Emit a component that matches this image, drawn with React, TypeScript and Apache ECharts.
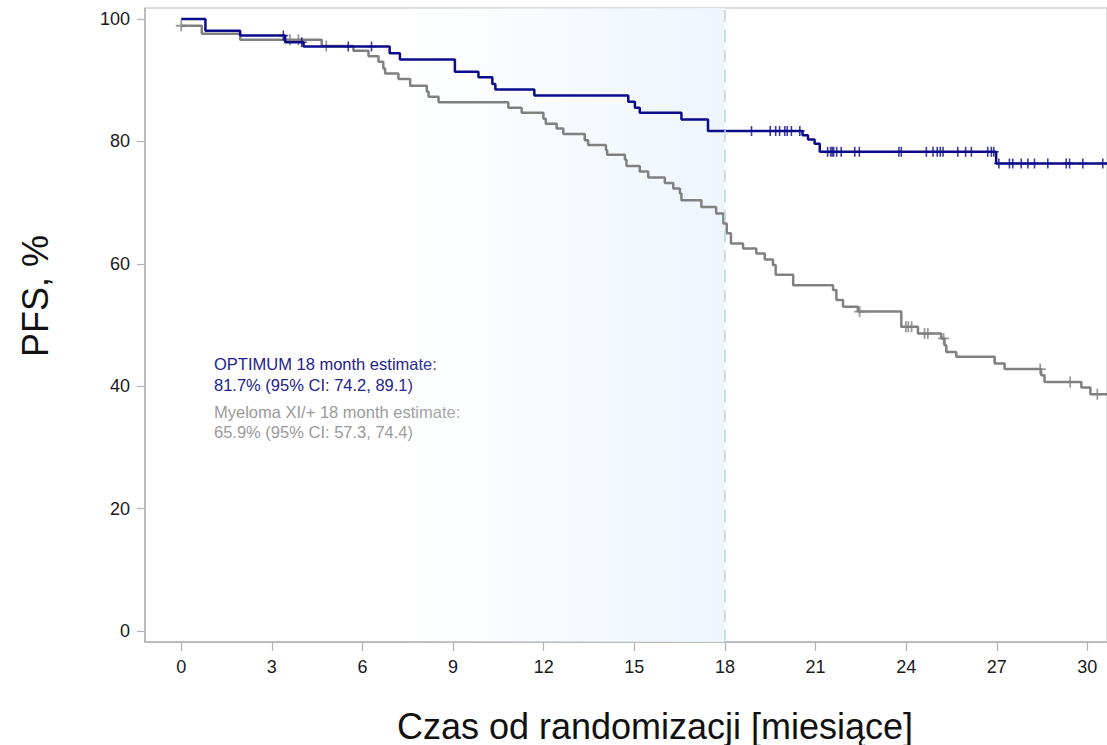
import React, { useEffect, useRef } from "react";
import * as echarts from "echarts";

const xTicks = [0, 3, 6, 9, 12, 15, 18, 21, 24, 27, 30];
const yTicks = [0, 20, 40, 60, 80, 100];

// OPTIMUM (blue) Kaplan-Meier steps: time (months) and survival (%) from that time
const blueT = [0, 0.8, 1.95, 3.44, 4.05, 6.9, 7.24, 9.06, 9.84, 10.3, 10.4, 11.69, 14.8, 15.02, 15.18, 16.56, 17.44, 20.57, 20.75, 20.97, 21.14, 26.98];
const blueS = [100, 98.1, 97.3, 96.2, 95.5, 94.4, 93.4, 91.4, 90.5, 89.4, 88.5, 87.5, 86.5, 85.5, 84.7, 83.6, 81.7, 81.0, 80.3, 79.6, 78.3, 76.4];
const blueCensor = [3.38, 3.99, 5.53, 6.3, 18.88, 19.5, 19.68, 19.81, 19.98, 20.06, 20.2, 20.48, 21.4, 21.5, 21.55, 21.6, 21.7, 21.85, 22.3, 22.45, 23.76, 23.84, 24.67, 24.89, 25.03, 25.13, 25.22, 25.71, 25.97, 26.16, 26.7, 26.82, 26.9, 27.07, 27.42, 27.53, 27.81, 28.03, 28.25, 28.69, 29.3, 29.41, 29.85, 30.51];

// Myeloma XI/+ (gray)
const grayT = [0, 0.68, 1.95, 4.65, 5.7, 6.2, 6.53, 6.69, 6.75, 7.19, 7.58, 8.13, 8.19, 8.52, 10.83, 11.27, 11.99, 12.07, 12.43, 12.65, 13.36, 13.47, 14.06, 14.1, 14.69, 14.74, 15.18, 15.46, 16.01, 16.29, 16.51, 16.56, 17.22, 17.71, 17.95, 18.06, 18.2, 18.6, 19.04, 19.32, 19.59, 19.68, 20.26, 21.58, 21.69, 21.91, 22.4, 23.84, 24.39, 25.16, 25.27, 25.33, 25.66, 26.93, 27.26, 28.47, 28.58, 29.8, 30.1];
const grayS = [98.9, 97.6, 96.6, 95.6, 94.8, 93.9, 93.0, 91.9, 91.1, 90.2, 89.1, 88.1, 87.3, 86.4, 85.5, 84.7, 83.7, 82.9, 82.1, 81.2, 80.2, 79.4, 78.6, 77.8, 77.0, 76.0, 75.1, 74.1, 73.2, 72.3, 71.5, 70.4, 69.3, 68.2, 66.6, 65.0, 63.3, 62.5, 61.7, 60.7, 59.8, 58.2, 56.5, 55.7, 54.1, 53.0, 52.2, 49.7, 48.6, 47.8, 46.7, 45.6, 44.8, 43.7, 42.8, 41.8, 40.7, 39.8, 38.7];
const grayCensor = [0, 3.6, 3.88, 4.8, 22.46, 23.99, 24.07, 24.18, 24.61, 24.72, 25.24, 28.44, 29.43, 30.33];

const X_MIN = -1.2;
const X_MAX = 30.65;
const Y_MIN = -1.8;
const Y_MAX = 101.8;

const BLUE = "#0b0b8c";
const GRAY = "#808080";
const FONT = "'Liberation Sans', Arial, sans-serif";
const PLUS = "path://M4.2,0H5.8V4.2H10V5.8H5.8V10H4.2V5.8H0V4.2H4.2Z";

function stepLookup(ts: number[], ss: number[], t: number) {
  let v = ss[0];
  for (let i = 0; i < ts.length; i++) if (ts[i] <= t) v = ss[i];
  return v;
}

function curve(ts: number[], ss: number[]) {
  const d = ts.map((t, i) => [t, ss[i]]);
  d.push([X_MAX, ss[ss.length - 1]]);
  return d;
}

export default function App() {
  const ref = useRef<HTMLDivElement>(null);
  useEffect(() => {
    if (!ref.current) return;
    const chart = echarts.init(ref.current, null, { renderer: "svg" });
    const axisCol = "#b0b0b0";
    chart.setOption({
      animation: false,
      backgroundColor: "#ffffff",
      grid: {
        left: 145,
        right: -2,
        top: 8,
        bottom: 103,
        show: true,
        borderColor: "#bcbcbc",
        borderWidth: 1,
      },
      xAxis: {
        type: "value",
        min: X_MIN,
        max: X_MAX,
        splitLine: { show: false },
        axisLine: { show: true, onZero: false, lineStyle: { color: axisCol, width: 1.5 } },
        axisTick: { show: true, length: 9, customValues: xTicks, lineStyle: { color: axisCol, width: 1.2 } },
        axisLabel: { customValues: xTicks, margin: 16, fontSize: 18, color: "#1a1a1a", fontFamily: FONT },
      },
      yAxis: {
        type: "value",
        min: Y_MIN,
        max: Y_MAX,
        splitLine: { show: false },
        axisLine: { show: true, onZero: false, lineStyle: { color: axisCol, width: 1.5 } },
        axisTick: { show: true, length: 8, customValues: yTicks, lineStyle: { color: axisCol, width: 1.2 } },
        axisLabel: { customValues: yTicks, margin: 15, fontSize: 18, color: "#1a1a1a", fontFamily: FONT },
      },
      series: [
        {
          name: "Myeloma XI/+",
          type: "line",
          step: "end",
          showSymbol: false,
          symbol: "none",
          data: curve(grayT, grayS),
          lineStyle: { color: GRAY, width: 2.5 },
          z: 2,
          markArea: {
            silent: true,
            itemStyle: {
              color: new echarts.graphic.LinearGradient(0, 0, 1, 0, [
                { offset: 0, color: "rgba(240,247,254,0)" },
                { offset: 1, color: "#eef5fd" },
              ]),
            },
            data: [[{ xAxis: 7 }, { xAxis: 18 }]],
          },
          markLine: {
            silent: true,
            symbol: "none",
            label: { show: false },
            lineStyle: { color: "#b4d6e8", type: [12, 8], width: 1.5 },
            data: [{ xAxis: 18 }],
          },
        },
        {
          name: "Myeloma XI/+ censored",
          type: "scatter",
          symbol: PLUS,
          symbolSize: 11,
          itemStyle: { color: GRAY },
          data: grayCensor.map((t) => [t, stepLookup(grayT, grayS, t)]),
          z: 3,
        },
        {
          name: "OPTIMUM",
          type: "line",
          step: "end",
          showSymbol: false,
          symbol: "none",
          data: curve(blueT, blueS),
          lineStyle: { color: BLUE, width: 2.5 },
          z: 4,
        },
        {
          name: "OPTIMUM censored",
          type: "scatter",
          symbol: PLUS,
          symbolSize: 10,
          itemStyle: { color: BLUE },
          data: blueCensor.map((t) => [t, stepLookup(blueT, blueS, t)]),
          z: 5,
        },
      ],
      graphic: [
        { type: "text", x: 214, y: 364, style: { text: "OPTIMUM 18 month estimate:", fill: "#22228f", fontSize: 16.5, fontFamily: FONT, textVerticalAlign: "middle" } },
        { type: "text", x: 214, y: 385, style: { text: "81.7% (95% CI: 74.2, 89.1)", fill: "#22228f", fontSize: 16.5, fontFamily: FONT, textVerticalAlign: "middle" } },
        { type: "text", x: 214, y: 412, style: { text: "Myeloma XI/+ 18 month estimate:", fill: "#9a9a9a", fontSize: 16.5, fontFamily: FONT, textVerticalAlign: "middle" } },
        { type: "text", x: 214, y: 432, style: { text: "65.9% (95% CI: 57.3, 74.4)", fill: "#9a9a9a", fontSize: 16.5, fontFamily: FONT, textVerticalAlign: "middle" } },
        { type: "text", x: 655, y: 726, style: { text: "Czas od randomizacji [miesiące]", fill: "#111111", fontSize: 36, fontFamily: FONT, textAlign: "center", textVerticalAlign: "middle" } },
        { type: "text", x: 35, y: 296, rotation: Math.PI / 2, style: { text: "PFS, %", fill: "#111111", fontSize: 36, fontFamily: FONT, textAlign: "center", textVerticalAlign: "middle" } },
      ],
    });
    return () => chart.dispose();
  }, []);
  return <div ref={ref} style={{ position: "fixed", left: 0, top: 0, width: 1107, height: 745 }} />;
}
